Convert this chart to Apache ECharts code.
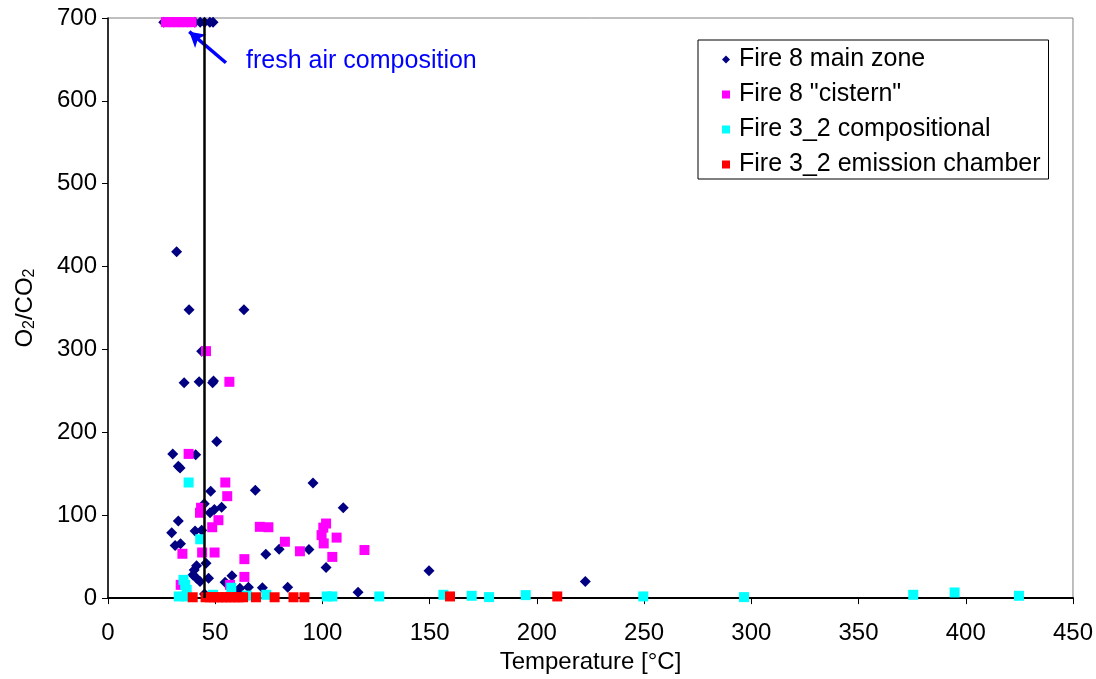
<!DOCTYPE html>
<html>
<head>
<meta charset="utf-8">
<script src="https://cdn.jsdelivr.net/npm/echarts@6/dist/echarts.min.js"></script>
<style>html,body{margin:0;padding:0;background:#fff}#c{width:1096px;height:679px}</style>
</head>
<body>
<div id="c"></div>
<script>
// ---- data ----
const xTicks = [0, 50, 100, 150, 200, 250, 300, 350, 400, 450];
const yTicks = [0, 100, 200, 300, 400, 500, 600, 700];
const seriesNames = ['Fire 8 main zone', 'Fire 8 "cistern"', 'Fire 3_2 compositional', 'Fire 3_2 emission chamber'];

const mainZoneT = [26, 40.5, 43, 45, 47.5, 49, 32, 37.8, 63.4, 43.7, 35.5, 42.5, 48.8, 49.2, 50.7, 30.2, 40.9, 32.8, 33.6, 47.9, 68.7, 95.6, 44.9, 109.7, 47.6, 49.6, 53, 32.8, 29.7, 40.6, 43.7, 31.3, 33.8, 73.6, 79.8, 93.7, 101.7, 45.7, 41.3, 40.2, 39.6, 41.3, 42.9, 46.9, 57.8, 54.6, 61.5, 65.5, 72, 83.8, 116.6, 149.7, 222.6, 45, 50, 60];
const mainZoneR = [695, 695, 695, 695, 695, 695, 418, 348, 348, 298, 260, 261, 260, 262, 189, 174, 173, 159, 157, 129, 130, 139, 114, 109, 103, 107, 109.5, 93, 79, 81, 82, 63.5, 65.5, 53, 59, 58.5, 37, 42, 39, 34, 28, 24, 20, 24, 27, 19, 12, 13, 12.5, 13, 7, 33, 20, 5, 3, 8];

const cisternT = [27, 29, 31, 33, 35, 37, 39, 45.7, 56.6, 37.6, 54.7, 55.6, 43.4, 42.9, 51.5, 48.6, 70.8, 74.8, 101.7, 100.4, 99.6, 100.6, 106.6, 82.5, 34.7, 43.9, 49.7, 89.5, 119.6, 104.6, 63.6, 63.6, 56.9, 33.9];
const cisternR = [695, 695, 695, 695, 695, 695, 695, 298, 261, 174, 139.5, 123, 109, 103, 94, 85.5, 86, 85.5, 90, 85, 76, 66, 73, 68, 53.5, 55, 55, 56.5, 58, 49.7, 47, 25.6, 16, 16];

const compT = [37.6, 43, 35.2, 36, 36.7, 57.5, 49, 33, 36.5, 64.7, 73.8, 102, 104.6, 126.5, 156.4, 169.6, 177.7, 194.8, 249.6, 296.6, 375.5, 394.8, 424.8];
const compR = [139.5, 71, 22, 16, 10, 12.5, 4, 2, 2, 3, 4, 2, 2, 2, 4, 2.8, 1.2, 3.6, 2, 1.2, 4, 6.8, 2.8];

const chamberT = [39.5, 45.5, 47.5, 49.5, 51.5, 53.5, 55, 57, 59, 61, 63, 69, 77.7, 86.5, 91.6, 159.5, 209.5];
const chamberR = [1, 1, 1, 1, 1, 1, 1, 1, 1, 1, 1, 1, 1, 1, 1, 2, 2];

const freshAirT = 45;               // vertical reference line
const arrowFrom = [55, 646];
const arrowTo = [37.9, 683.5];
const annotationPos = [64.4, 648];
const annotationText = 'fresh air composition';

const zip = (a, b) => a.map((v, i) => [v, b[i]]);
const FONT = 'Liberation Sans, Arial, sans-serif';
const FS = 24;

const chart = echarts.init(document.getElementById('c'), null, {renderer: 'canvas'});
chart.setOption({
  animation: false,
  backgroundColor: '#fff',
  textStyle: {fontFamily: FONT},
  grid: {left: 108, right: 23, top: 18, bottom: 79, show: true, borderColor: '#808080', borderWidth: 1},
  legend: {
    data: seriesNames.map((n, i) => ({name: n, icon: i === 0 ? 'diamond' : 'rect'})),
    orient: 'vertical',
    left: 698, top: 40,
    backgroundColor: '#fff',
    borderColor: '#000', borderWidth: 1,
    padding: [7, 8, 2, 24],
    itemWidth: 8, itemHeight: 8, itemGap: 10,
    textStyle: {fontSize: 25, color: '#000', fontFamily: FONT, lineHeight: 24.5, padding: [0, 0, 0, 4]},
    selectedMode: false
  },
  xAxis: {
    type: 'value', min: 0, max: 450, interval: 50,
    name: 'Temperature [°C]', nameLocation: 'middle', nameGap: 50,
    nameTextStyle: {fontSize: FS, color: '#000', fontFamily: FONT},
    axisLine: {show: true, onZero: false, lineStyle: {color: '#000', width: 2}},
    axisTick: {show: true, inside: false, length: 6, lineStyle: {color: '#000'}},
    axisLabel: {fontSize: FS, color: '#000', margin: 23, formatter: v => xTicks.includes(v) ? String(v) : ''},
    splitLine: {show: false}
  },
  yAxis: {
    type: 'value', min: 0, max: 700, interval: 100,
    name: '{a|O}{s|2}{a|/CO}{s|2}', nameLocation: 'middle', nameGap: 70, nameRotate: 90,
    nameTextStyle: {rich: {
      a: {fontSize: FS, color: '#000', fontFamily: FONT},
      s: {fontSize: 16, color: '#000', fontFamily: FONT, verticalAlign: 'bottom', padding: [9, 0, 0, 0]}
    }},
    axisLine: {show: true, onZero: false, lineStyle: {color: '#000', width: 1.5}},
    axisTick: {show: true, inside: false, length: 6, lineStyle: {color: '#000'}},
    axisLabel: {fontSize: FS, color: '#000', margin: 11, formatter: v => yTicks.includes(v) ? String(v) : ''},
    splitLine: {show: false}
  },
  series: [
    {name: seriesNames[0], type: 'scatter', symbol: 'diamond', symbolSize: 11,
     itemStyle: {color: '#000080', opacity: 1}, data: zip(mainZoneT, mainZoneR), z: 2},
    {name: seriesNames[1], type: 'scatter', symbol: 'rect', symbolSize: 10,
     itemStyle: {color: '#FF00FF', opacity: 1}, data: zip(cisternT, cisternR), z: 3},
    {name: seriesNames[2], type: 'scatter', symbol: 'rect', symbolSize: 10,
     itemStyle: {color: '#00FFFF', opacity: 1}, data: zip(compT, compR), z: 4},
    {name: seriesNames[3], type: 'scatter', symbol: 'rect', symbolSize: 10,
     itemStyle: {color: '#FF0000', opacity: 1}, data: zip(chamberT, chamberR), z: 5},
    {name: 'freshLine', type: 'line', data: [[freshAirT, 0], [freshAirT, 700]],
     symbol: 'none', lineStyle: {color: '#000', width: 2.5}, z: 6, silent: true},
    {name: 'annot', type: 'scatter', data: [annotationPos], symbolSize: 0, z: 7, silent: true,
     itemStyle: {opacity: 1, color: '#0000FF'},
     label: {show: true, position: 'right', distance: 0, formatter: annotationText,
             fontSize: 25, color: '#0000FF', opacity: 1, fontFamily: FONT},
     markLine: {
       silent: true, animation: false,
       symbol: ['none', 'arrow'], symbolSize: [13, 15],
       lineStyle: {color: '#0000FF', width: 3.5, type: 'solid', opacity: 1},
       itemStyle: {color: '#0000FF'},
       label: {show: false},
       data: [[{coord: arrowFrom}, {coord: arrowTo}]]
     }}
  ]
});
</script>
</body>
</html>
